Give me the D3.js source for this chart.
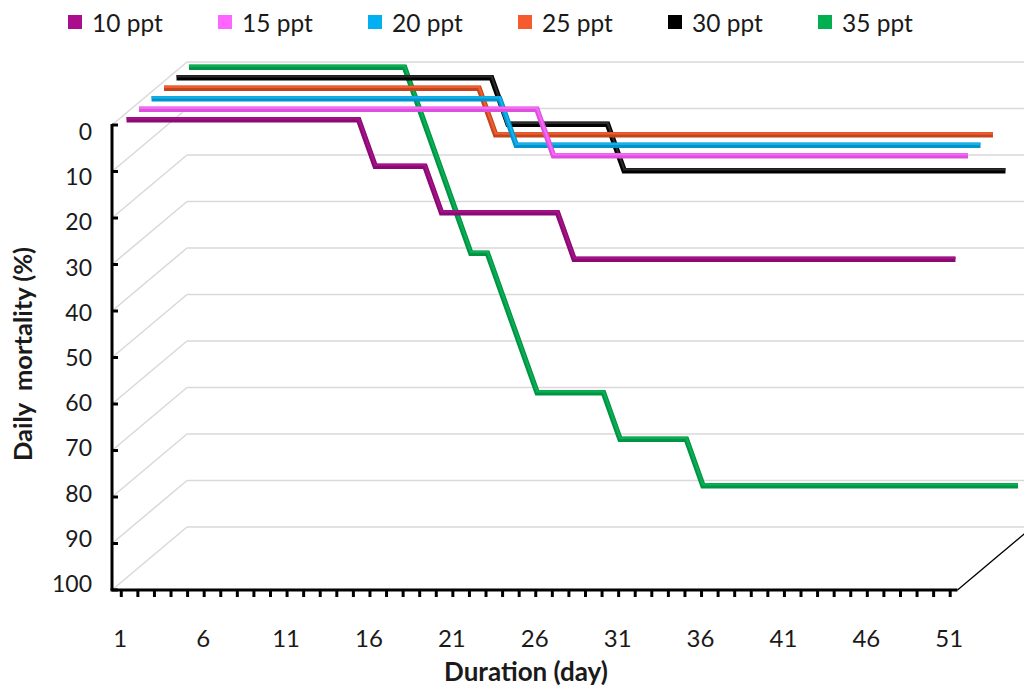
<!DOCTYPE html>
<html>
<head>
<meta charset="utf-8">
<script src="https://cdn.jsdelivr.net/npm/d3@7"></script>
<style>
  body { margin: 0; background: #fff; }
  text { font-family: Lato, "Open Sans", sans-serif; fill: #1a1a1a; }
</style>
</head>
<body>
<div class="chart"></div>
<script>
// DATA ------
const days = d3.range(1, 52);
const seriesNames = ["10 ppt", "15 ppt", "20 ppt", "25 ppt", "30 ppt", "35 ppt"];
const mort10 = [0,0,0,0,0,0,0,0,0,0,0,0,0,0,0,10,10,10,10,20,20,20,20,20,20,20,20,
  30,30,30,30,30,30,30,30,30,30,30,30,30,30,30,30,30,30,30,30,30,30,30,30];
const mort15 = [0,0,0,0,0,0,0,0,0,0,0,0,0,0,0,0,0,0,0,0,0,0,0,0,0,
  10,10,10,10,10,10,10,10,10,10,10,10,10,10,10,10,10,10,10,10,10,10,10,10,10,10];
const mort20 = [0,0,0,0,0,0,0,0,0,0,0,0,0,0,0,0,0,0,0,0,0,0,
  10,10,10,10,10,10,10,10,10,10,10,10,10,10,10,10,10,10,10,10,10,10,10,10,10,10,10,10,10];
const mort25 = [0,0,0,0,0,0,0,0,0,0,0,0,0,0,0,0,0,0,0,0,
  10,10,10,10,10,10,10,10,10,10,10,10,10,10,10,10,10,10,10,10,10,10,10,10,10,10,10,10,10,10,10];
const mort30 = [0,0,0,0,0,0,0,0,0,0,0,0,0,0,0,0,0,0,0,0,10,10,10,10,10,10,10,
  20,20,20,20,20,20,20,20,20,20,20,20,20,20,20,20,20,20,20,20,20,20,20,20];
const mort35 = [0,0,0,0,0,0,0,0,0,0,0,0,0,0,10,20,30,40,40,50,60,70,70,70,70,70,
  80,80,80,80,80,90,90,90,90,90,90,90,90,90,90,90,90,90,90,90,90,90,90,90,90];
const yTicks = [0, 10, 20, 30, 40, 50, 60, 70, 80, 90, 100];
const xLabels = [1, 6, 11, 16, 21, 26, 31, 36, 41, 46, 51];

const allSeries = [mort10, mort15, mort20, mort25, mort30, mort35];
const legendColor = ["#ab0e8d", "#ff66ff", "#00b0f0", "#f55b2e", "#000000", "#00b050"];
const lineDark = ["#8a0a72", "#dd4fdd", "#0093cc", "#c4451d", "#000000", "#009447"];
const lineLight = ["#a3128a", "#f46af4", "#17b0ea", "#ee5e30", "#2a2a2a", "#0cae52"];

// CHART INIT ------
const width = 1024, height = 687;
const depth = {x: 75, y: -63};

const svg = d3.select(".chart")
  .append("svg")
  .attr("width", width)
  .attr("height", height);

const xScale = d3.scaleBand()
  .domain(days)
  .range([112, 957.5]);
const xc = d => xScale(d) + xScale.bandwidth() / 2;

const yScale = d3.scaleLinear()
  .domain([0, 100])
  .range([125, 590]);

// label positions drift slightly from ticks in the 3d projection
const yLabelScale = d3.scaleLinear()
  .domain([0, 100])
  .range([131, 583]);

const x0 = xScale.range()[0], x1 = xScale.range()[1];

// walls: side diagonals + back gridlines
const grid = svg.append("g").attr("stroke", "#d9d9d9").attr("stroke-width", 1.5).attr("fill", "none");
grid.selectAll(".diag")
  .data(yTicks)
  .join("line")
  .attr("x1", x0).attr("y1", d => yScale(d))
  .attr("x2", x0 + depth.x).attr("y2", d => yScale(d) + depth.y);
grid.selectAll(".back")
  .data(yTicks)
  .join("line")
  .attr("x1", x0 + depth.x).attr("y1", d => yScale(d) + depth.y)
  .attr("x2", x1 + depth.x).attr("y2", d => yScale(d) + depth.y);

// floor right edge
svg.append("line")
  .attr("x1", x1).attr("y1", yScale(100))
  .attr("x2", x1 + depth.x).attr("y2", yScale(100) + depth.y)
  .attr("stroke", "#000").attr("stroke-width", 1.3);

// series, back to front
const nS = allSeries.length;
const order = d3.range(nS).reverse();
order.forEach(i => {
  const f = (i + 0.5) / nS;
  const dx = depth.x * f, dy = depth.y * f;
  const line = d3.line()
    .x((v, k) => xc(days[k]) + dx)
    .y(v => yScale(v) + dy);
  svg.append("path")
    .attr("d", line(allSeries[i]))
    .attr("fill", "none")
    .attr("stroke", lineDark[i])
    .attr("stroke-width", 5.5)
    .attr("stroke-linejoin", "miter");
  svg.append("path")
    .attr("d", line(allSeries[i]))
    .attr("transform", "translate(0,-1.4)")
    .attr("fill", "none")
    .attr("stroke", lineLight[i])
    .attr("stroke-width", 2.2)
    .attr("stroke-linejoin", "miter");
});

// y axis
svg.append("line")
  .attr("x1", x0).attr("y1", yScale(0) - 1)
  .attr("x2", x0).attr("y2", yScale(100))
  .attr("stroke", "#000").attr("stroke-width", 3);
svg.selectAll(".ytick")
  .data(yTicks)
  .join("line")
  .attr("x1", x0).attr("x2", x0 + 6)
  .attr("y1", d => yScale(d)).attr("y2", d => yScale(d))
  .attr("stroke", "#000").attr("stroke-width", 3);
svg.selectAll(".ylab")
  .data(yTicks)
  .join("text")
  .attr("x", 92)
  .attr("y", d => yLabelScale(d))
  .attr("text-anchor", "end")
  .attr("dominant-baseline", "central")
  .attr("font-size", 23)
  .text(d => d);

// x axis
svg.append("line")
  .attr("x1", x0 - 1.5).attr("y1", yScale(100))
  .attr("x2", x1).attr("y2", yScale(100))
  .attr("stroke", "#000").attr("stroke-width", 3);
svg.selectAll(".xtick")
  .data(days)
  .join("line")
  .attr("x1", d => xc(d) + 1).attr("x2", d => xc(d) + 1)
  .attr("y1", yScale(100)).attr("y2", yScale(100) + 7)
  .attr("stroke", "#000").attr("stroke-width", 3);
svg.selectAll(".xlab")
  .data(xLabels)
  .join("text")
  .attr("x", d => xc(d))
  .attr("y", 637)
  .attr("text-anchor", "middle")
  .attr("dominant-baseline", "central")
  .attr("font-size", 24)
  .text(d => d);

// axis titles
svg.append("text")
  .attr("x", 526)
  .attr("y", 681)
  .attr("text-anchor", "middle")
  .attr("font-size", 26)
  .attr("font-weight", "bold")
  .text("Duration (day)");

svg.append("text")
  .attr("transform", "translate(32,354) rotate(-90)")
  .attr("text-anchor", "middle")
  .attr("font-size", 25.5)
  .attr("font-weight", "bold")
  .attr("xml:space", "preserve")
  .style("white-space", "pre")
  .text("Daily  mortality (%)");

// legend
const legend = svg.selectAll(".legend")
  .data(seriesNames)
  .join("g")
  .attr("transform", (d, i) => `translate(${68 + i * 150},22)`);
legend.append("rect")
  .attr("x", 0).attr("y", -7)
  .attr("width", 14).attr("height", 14)
  .attr("fill", (d, i) => legendColor[i]);
legend.append("text")
  .attr("x", 24)
  .attr("y", 0)
  .attr("dominant-baseline", "central")
  .attr("font-size", 24.5)
  .text(d => d);
</script>
</body>
</html>
